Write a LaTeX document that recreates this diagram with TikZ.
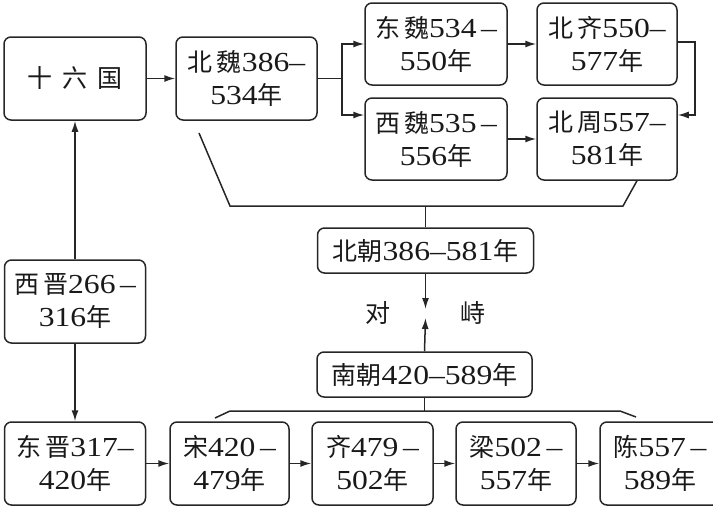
\documentclass[tikz,border=0pt]{standalone}
\usepackage{fontspec}
\setmainfont{Liberation Serif}[FakeStretch=1.15]
\newfontfamily\cjk{Noto Sans CJK SC}
\usetikzlibrary{arrows.meta}
\newcommand\zh[1]{{\cjk\fontsize{25}{33}\selectfont #1}}
\begin{document}
\begin{tikzpicture}[x=1pt,y=-1pt,
  box/.style={draw=black!85, line width=1.5pt, rounded corners=7pt, minimum height=83pt,
    inner sep=0pt, align=center, font=\fontsize{27.5}{33}\selectfont, text=black!90},
  wide/.style={box, minimum height=45pt},
  conn/.style={draw=black!85, line width=1.5pt},
  arr/.style={conn, -{Latex[length=11pt,width=7pt]}},
  lbl/.style={inner sep=0pt, text=black!90}
]
\useasboundingbox (0,0) rectangle (713,507);
% top row
\node[box, minimum width=142pt] (sl) at (75,78.5) {\zh{十\hspace{10pt}六\hspace{10pt}国}};
\node[box, minimum width=141pt] (bw) at (246.5,78.5) {\zh{北\,魏}386–\\534\zh{年}};
\node[box, minimum width=142pt, minimum height=82pt] (dw) at (436,44) {\zh{东\,魏}534\,–\\550\zh{年}};
\node[box, minimum width=140pt, minimum height=82pt] (bq) at (607,44) {\zh{北\,齐}550–\\577\zh{年}};
\node[box, minimum width=142pt, minimum height=82pt] (xw) at (436,139) {\zh{西\,魏}535\,–\\556\zh{年}};
\node[box, minimum width=140pt, minimum height=82pt] (bz) at (607,139) {\zh{北\,周}557–\\581\zh{年}};
% middle
\node[wide, minimum width=216pt] (bc) at (425.5,250.5) {\zh{北朝}386–581\zh{年}};
\node[wide, minimum width=215pt] (nc) at (424.5,374.5) {\zh{南朝}420–589\zh{年}};
\node[lbl] (dui) at (378,313) {\zh{对}};
\node[lbl] (zhi) at (473,313) {\zh{峙}};
% left column
\node[box, minimum width=141pt] (xj) at (75,301.5) {\zh{西\,晋}266\,–\\316\zh{年}};
\node[box, minimum width=141pt] (dj) at (75,463.5) {\zh{东\,晋}317–\\420\zh{年}};
% bottom row
\node[box, minimum width=119pt] (song) at (229.5,463.5) {\zh{宋}420\,–\\479\zh{年}};
\node[box, minimum width=121pt] (qi) at (372.5,463.5) {\zh{齐}479\,–\\502\zh{年}};
\node[box, minimum width=120pt] (liang) at (516,463.5) {\zh{梁}502\,–\\557\zh{年}};
\node[box, minimum width=120pt] (chen) at (660,463.5) {\zh{陈}557\,–\\589\zh{年}};
% coordinates
\coordinate (br) at (342,78.5);
\coordinate (nbL) at (199,133);
\coordinate (nbL2) at (230,206);
\coordinate (nbR2) at (623,206);
\coordinate (nbM) at (425.5,206);
\coordinate (sbM) at (424.5,411);
\coordinate (sbL) at (215,418);
\coordinate (sbL2) at (230,411);
\coordinate (sbR2) at (620,411);
\coordinate (sbR) at (636,417);
\coordinate (dtip) at (425.5,309);
\coordinate (utip) at (425.5,318);
\coordinate (qe) at (695,42);
% connectors top
\draw[arr] (sl.east) -- (bw.west);
\draw[conn] (bw.east) -- (br);
\draw[arr] (br) |- (dw.west);
\draw[arr] (br) |- ([yshift=24pt]xw.west);
\draw[arr] (dw.east) -- (bq.west);
\draw[arr] (xw.east) -- (bz.west);
\draw[arr] ([yshift=2pt]bq.east) -| (qe) |- ([yshift=24pt]bz.east);
% north bracket
\draw[conn] (nbL) -- (nbL2) -- (nbR2) -- (bz.south -| 637,0);
\draw[conn] (nbM) -- (bc.north);
% confrontation
\draw[arr] (bc.south) -- (dtip);
\draw[arr] (nc.north) -- (utip);
% south bracket
\draw[conn] (nc.south) -- (sbM);
\draw[conn] (sbL) -- (sbL2) -- (sbR2) -- (sbR);
% left column
\draw[arr] (xj.north) -- (sl.south);
\draw[arr] (xj.south) -- (dj.north);
% bottom row
\draw[arr] (dj.east) -- (song.west);
\draw[arr] (song.east) -- (qi.west);
\draw[arr] (qi.east) -- (liang.west);
\draw[arr] (liang.east) -- (chen.west);
\end{tikzpicture}
\end{document}
